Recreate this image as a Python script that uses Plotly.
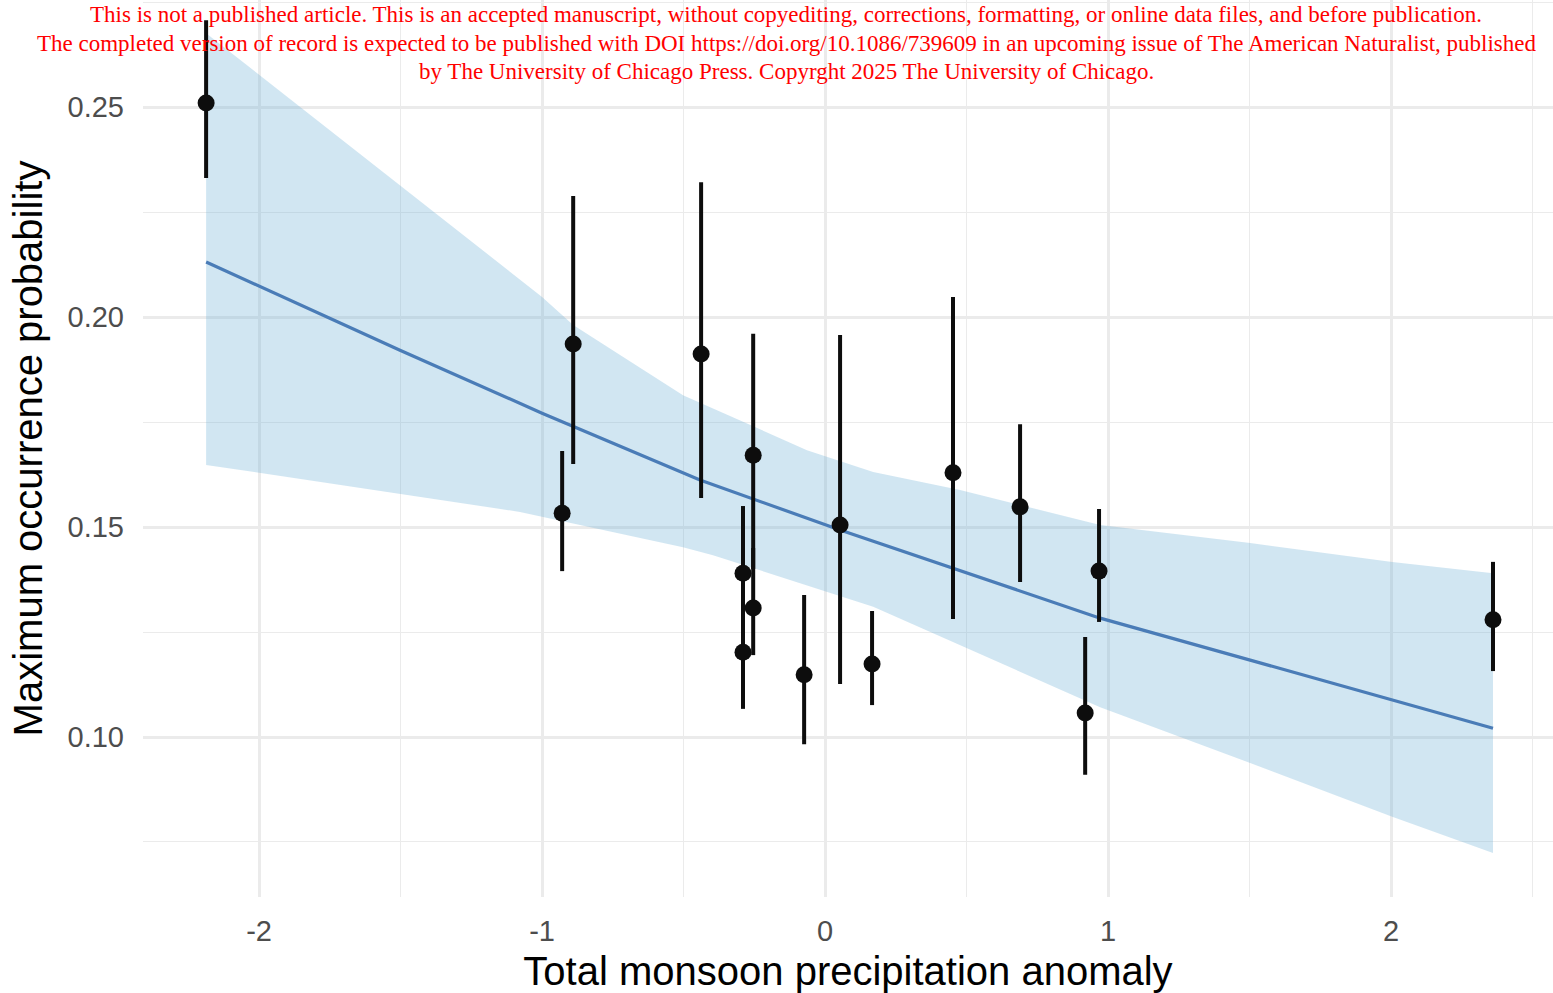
import plotly.graph_objects as go

# Observed yearly maxima with 95% credible intervals
precip_anomaly = [-2.187, -0.890, -0.929, -0.438, -0.254, -0.290, -0.254, -0.290,
                  -0.074, 0.053, 0.166, 0.452, 0.689, 0.968, 0.919, 2.360]
occ_prob = [0.2510, 0.1936, 0.1533, 0.1912, 0.1671, 0.1390, 0.1307, 0.1202,
            0.1148, 0.1505, 0.1174, 0.1629, 0.1548, 0.1395, 0.1057, 0.1279]
ci_hi = [0.2707, 0.2288, 0.1681, 0.2321, 0.1960, 0.1550, 0.1450, 0.1350,
         0.1338, 0.1957, 0.1300, 0.2048, 0.1745, 0.1543, 0.1238, 0.1417]
ci_lo = [0.2331, 0.1650, 0.1395, 0.1569, 0.1400, 0.1231, 0.1195, 0.1067,
         0.0983, 0.1126, 0.1076, 0.1281, 0.1369, 0.1274, 0.0910, 0.1157]

# Fitted trend and its confidence band
fit_x = [-2.187, -1.502, -1.000, -0.442, 0.053, 0.972, 1.502, 2.004, 2.360]
fit_y = [0.2131, 0.1921, 0.1771, 0.1612, 0.1493, 0.1283, 0.1183, 0.1088, 0.1021]
band_hi_x = [-2.187, -1.000, -0.890, -0.502, -0.064, 0.170, 0.477, 0.972, 1.502, 2.004, 2.360]
band_hi = [0.2676, 0.2048, 0.1981, 0.1814, 0.1683, 0.1631, 0.1588, 0.1505, 0.1462, 0.1417, 0.1390]
band_lo_x = [-2.187, -1.078, -0.502, -0.396, 0.170, 0.477, 0.700, 0.972, 1.502, 2.004, 2.360]
band_lo = [0.1648, 0.1536, 0.1452, 0.1433, 0.1310, 0.1217, 0.1152, 0.1071, 0.0938, 0.0810, 0.0724]

x_ticks = [-2, -1, 0, 1, 2]
y_ticks = [0.10, 0.15, 0.20, 0.25]

notice_lines = [
    "This is not a published article. This is an accepted manuscript, without copyediting, corrections, formatting, or online data files, and before publication.",
    "The completed version of record is expected to be published with DOI https://doi.org/10.1086/739609 in an upcoming issue of The American Naturalist, published",
    "by The University of Chicago Press. Copyrght 2025 The University of Chicago.",
]

fig = go.Figure()

# confidence band (upper edge left-to-right, lower edge back)
fig.add_trace(go.Scatter(
    x=band_hi_x + band_lo_x[::-1],
    y=band_hi + band_lo[::-1],
    fill="toself", fillcolor="rgba(107,174,214,0.31)",
    line=dict(width=0), mode="lines", hoverinfo="skip", showlegend=False,
))

fig.add_trace(go.Scatter(
    x=fit_x, y=fit_y, mode="lines",
    line=dict(color="#4a7cb7", width=3.2),
    hoverinfo="skip", showlegend=False,
))

fig.add_trace(go.Scatter(
    x=precip_anomaly, y=occ_prob, mode="markers",
    marker=dict(color="#0d0d0d", size=17),
    error_y=dict(
        type="data", symmetric=False,
        array=[h - v for h, v in zip(ci_hi, occ_prob)],
        arrayminus=[v - l for v, l in zip(occ_prob, ci_lo)],
        color="#0d0d0d", thickness=4, width=0,
    ),
    showlegend=False,
))

grid_col = "#ebebeb"
sans = "Liberation Sans, Arial, sans-serif"
fig.update_xaxes(
    range=[-2.41, 2.572], tickvals=x_ticks, ticktext=[str(v) for v in x_ticks],
    showgrid=True, gridcolor=grid_col, gridwidth=2.6, zeroline=False,
    showline=False, ticks="",
    minor=dict(dtick=0.5, tick0=0, showgrid=True, gridcolor=grid_col, gridwidth=1.3),
    tickfont=dict(family=sans, size=29, color="#4d4d4d"),
    ticklabelstandoff=14,
    title=dict(text="Total monsoon precipitation anomaly",
               font=dict(family=sans, size=40, color="#000000"),
               standoff=13),
)
fig.update_yaxes(
    range=[0.0619, 0.2755], tickvals=y_ticks, ticktext=[f"{v:.2f}" for v in y_ticks],
    showgrid=True, gridcolor=grid_col, gridwidth=2.6, zeroline=False,
    showline=False, ticks="",
    minor=dict(dtick=0.025, tick0=0, showgrid=True, gridcolor=grid_col, gridwidth=1.3),
    tickfont=dict(family=sans, size=29, color="#4d4d4d"),
    ticklabelstandoff=18,
    title=dict(text="Maximum occurrence probability",
               font=dict(family=sans, size=40, color="#000000"),
               standoff=12),
)

for i, line in enumerate(notice_lines):
    fig.add_annotation(
        text=line, xref="paper", yref="paper",
        x=(786 - 143) / 1410, y=(897 - (14 + 29 * i)) / 897,
        xanchor="center", yanchor="middle", showarrow=False,
        font=dict(family="Liberation Serif, Times New Roman, serif", size=23, color="#ff0000"),
    )

fig.update_layout(
    width=1553, height=993,
    margin=dict(l=143, r=0, t=0, b=96, autoexpand=False),
    plot_bgcolor="#ffffff", paper_bgcolor="#ffffff",
    showlegend=False,
)

fig.write_html("out.html")
